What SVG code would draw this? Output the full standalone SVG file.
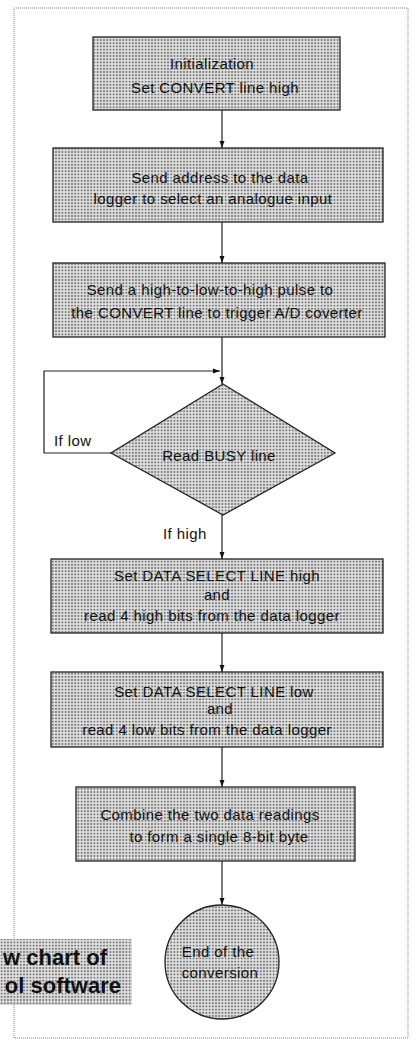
<svg xmlns="http://www.w3.org/2000/svg" width="412" height="1041" viewBox="0 0 412 1041">
<style>
text{font-family:"Liberation Sans",Arial,sans-serif;font-size:15px;letter-spacing:0.4px;fill:#111;text-anchor:middle;dominant-baseline:central}
.shape{fill:url(#dots);stroke:#222;stroke-width:1.3}
.conn{fill:none;stroke:#222;stroke-width:1.2}
.lbl{text-anchor:start}
.title{font-weight:bold;font-size:22px;letter-spacing:0;text-anchor:end}
</style>
<defs>
<pattern id="dots" width="3.2" height="3.2" patternUnits="userSpaceOnUse">
<rect width="3.2" height="3.2" fill="#e6e6e6"/>
<circle cx="1.6" cy="1.6" r="1.1" fill="#7a7a7a"/>
</pattern>
<marker id="arrv" viewBox="0 0 10 10" refX="10" refY="5" markerWidth="11" markerHeight="7" markerUnits="userSpaceOnUse" orient="auto">
<path d="M0,1.5 L10,5 L0,8.5 Z" fill="#111"/>
</marker>
</defs>
<rect width="412" height="1041" fill="#fff"/>
<rect x="14" y="8" width="394" height="1030" fill="none" stroke="#888" stroke-width="1" stroke-dasharray="1 1"/>

<g id="connectors">
<line class="conn" x1="222" y1="110" x2="222" y2="148" marker-end="url(#arrv)"/>
<line class="conn" x1="222" y1="222" x2="222" y2="263" marker-end="url(#arrv)"/>
<line class="conn" x1="222" y1="337" x2="222" y2="384" marker-end="url(#arrv)"/>
<polyline class="conn" points="111,453 44,453 44,371 220,371" marker-end="url(#arrv)"/>
<line class="conn" x1="222" y1="515" x2="222" y2="559" marker-end="url(#arrv)"/>
<line class="conn" x1="222" y1="633" x2="222" y2="672" marker-end="url(#arrv)"/>
<line class="conn" x1="222" y1="747" x2="222" y2="787" marker-end="url(#arrv)"/>
<line class="conn" x1="222" y1="861" x2="222" y2="905" marker-end="url(#arrv)"/>
<text class="lbl" x="54" y="440">If low</text>
<text class="lbl" x="163" y="533">If high</text>
</g>

<g id="init">
<rect class="shape" x="93" y="37" width="247" height="73"/>
<text x="212" y="63">Initialization</text>
<text x="215" y="87">Set CONVERT line high</text>
</g>

<g id="address">
<rect class="shape" x="53" y="148" width="330" height="74"/>
<text x="220" y="177">Send address to the data</text>
<text x="213" y="198">logger to select an analogue input</text>
</g>

<g id="pulse">
<rect class="shape" x="53" y="263" width="332" height="74"/>
<text x="210" y="289">Send a high-to-low-to-high pulse to</text>
<text x="217" y="312">the CONVERT line to trigger A/D coverter</text>
</g>

<g id="busy">
<polygon class="shape" points="223,384 335,453 223,515 111,453"/>
<text x="219" y="455">Read BUSY line</text>
</g>

<g id="highbits">
<rect class="shape" x="51" y="559" width="332" height="74"/>
<text x="217" y="575">Set DATA SELECT LINE high</text>
<text x="217" y="594">and</text>
<text x="212" y="615">read 4 high bits from the data logger</text>
</g>

<g id="lowbits">
<rect class="shape" x="51" y="672" width="332" height="75"/>
<text x="214" y="691">Set DATA SELECT LINE low</text>
<text x="220" y="708">and</text>
<text x="207" y="729">read 4 low bits from the data logger</text>
</g>

<g id="combine">
<rect class="shape" x="76" y="787" width="279" height="74"/>
<text x="210" y="814">Combine the two data readings</text>
<text x="219" y="836">to form a single 8-bit byte</text>
</g>

<g id="end">
<circle class="shape" cx="222" cy="962" r="57"/>
<text x="218" y="951">End of the</text>
<text x="220" y="972">conversion</text>
</g>

<g id="title">
<rect x="0" y="939" width="132" height="66" fill="url(#dots)"/>
<text class="title" x="107" y="957">w chart of</text>
<text class="title" x="121" y="985">ol software</text>
</g>
</svg>
